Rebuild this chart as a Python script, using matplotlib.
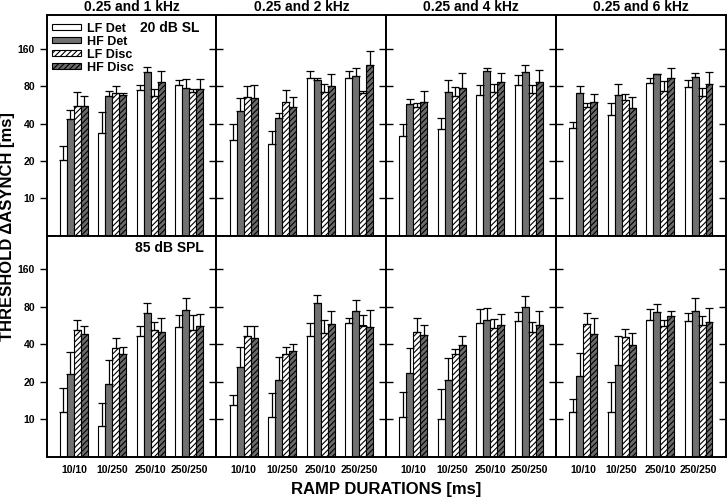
import numpy as np
import matplotlib
matplotlib.use("Agg")
import matplotlib.pyplot as plt
from matplotlib.ticker import FixedLocator, NullLocator, FixedFormatter

plt.rcParams['font.family'] = ['Liberation Sans', 'DejaVu Sans']
plt.rcParams['font.weight'] = 'bold'
plt.rcParams['hatch.linewidth'] = 0.8

panel_titles = ["0.25 and 1 kHz", "0.25 and 2 kHz", "0.25 and 4 kHz", "0.25 and 6 kHz"]
row_labels = ["20 dB SL", "85 dB SPL"]
ramp_labels = ["10/10", "10/250", "250/10", "250/250"]
series_names = ["LF Det", "HF Det", "LF Disc", "HF Disc"]
y_ticks = [10, 20, 40, 80, 160]

# ---- 20 dB SL (top row); each inner list = one panel, 4 ramp conditions ----
sl_lf_det = [[20.5, 33.3, 74, 81.6], [29.3, 27.5, 93.5, 93.5], [31.5, 36.3, 67.4, 82], [36.6, 46.5, 84.3, 78.3]]
sl_hf_det = [[43.4, 66.5, 103, 77.8], [50.4, 44, 89, 95.8], [57, 71.2, 105, 103], [70.8, 67.8, 99.5, 94]]
sl_lf_disc = [[55.6, 70, 66, 72], [65.3, 59.2, 71.2, 70.8], [54, 67, 71.2, 70], [53.9, 61.4, 73, 66.6]]
sl_hf_disc = [[55.6, 67.8, 86.3, 75.3], [64.1, 54.6, 80, 117.5], [59.9, 77.2, 86.3, 85.8], [59.2, 53, 92, 83.2]]
# upper ends of error bars
sl_lf_det_top = [[26.2, 49.8, 81, 90], [39.4, 34.8, 106, 106], [39.4, 44.5, 81.6, 98], [41.4, 58, 92, 89.6]]
sl_hf_det_top = [[51, 73.5, 113, 90.6], [64.5, 48.3, 93, 111], [63, 89, 112, 117.5], [80.6, 82.6, 100.5, 101]]
sl_lf_disc_top = [[72, 80, 75.3, 76], [80.6, 74, 83.6, 73.5], [58, 79, 83.6, 82], [58, 69.5, 88, 77.7]]
sl_hf_disc_top = [[66, 70, 105, 91.5], [81.6, 65.3, 100, 152], [72.6, 102.6, 102.6, 107], [69.5, 65.3, 111, 103]]

# ---- 85 dB SPL (bottom row) ----
spl_lf_det = [[11.5, 8.9, 46.8, 55], [12.9, 10.4, 46.8, 59.2], [10.5, 10.05, 59.5, 61.8], [11.4, 11.4, 62.2, 61.8]]
spl_hf_det = [[22.9, 19.1, 72.1, 76.2], [26.5, 20.7, 86.3, 74.8], [23.4, 20.6, 62.6, 79.6], [22.3, 27.2, 73, 74]]
spl_lf_disc = [[52.3, 37.7, 52.6, 52], [46.5, 33.5, 49.8, 56.7], [50.1, 33.3, 53.9, 50.1], [58.1, 45.7, 56.3, 57.7]]
spl_hf_disc = [[48.6, 33.3, 50.4, 56.3], [44.8, 35.4, 58.8, 55.3], [47.4, 39.4, 57.4, 57.7], [48.3, 39.4, 67.8, 60.6]]
spl_lf_det_top = [[17.7, 13.4, 56.7, 69], [15.6, 16.4, 59.2, 65.7], [16.7, 17.4, 76.7, 73], [14.6, 20.1, 77.2, 71.2]]
spl_hf_det_top = [[34.4, 30.2, 85.2, 95.2], [38.4, 31.9, 100, 90.6], [37.7, 30.9, 77.7, 97], [34.2, 46.5, 84.2, 93.5]]
spl_lf_disc_top = [[63, 45.4, 60.3, 69], [56, 38.4, 62.2, 68.6], [65, 36.6, 63.7, 60.6], [71.2, 53, 63, 67.8]]
spl_hf_disc_top = [[56.7, 38.4, 65, 70.4], [56, 40.1, 74.8, 75.8], [57.7, 46.8, 70.8, 74.8], [65, 49.8, 74, 79]]

rows = [
    ([sl_lf_det, sl_hf_det, sl_lf_disc, sl_hf_disc],
     [sl_lf_det_top, sl_hf_det_top, sl_lf_disc_top, sl_hf_disc_top]),
    ([spl_lf_det, spl_hf_det, spl_lf_disc, spl_hf_disc],
     [spl_lf_det_top, spl_hf_det_top, spl_lf_disc_top, spl_hf_disc_top]),
]

face = ["white", "#717171", "white", "#6a6a6a"]
hatches = [None, None, "//////", "//////"]

fig = plt.figure(figsize=(7.27, 5.03), dpi=100)
L, R, B, T = 46.7 / 727, 725.7 / 727, 1 - 456.7 / 503, 1 - 15 / 503
axes = fig.subplots(2, 4, sharex=True, sharey=True,
                    gridspec_kw=dict(left=L, right=R, bottom=B, top=T, wspace=0, hspace=0))

x = np.arange(len(ramp_labels))
bw = 0.181
offsets = (np.arange(4) - 1.5) * bw

for r, (means, tops) in enumerate(rows):
    for c in range(4):
        ax = axes[r, c]
        for s in range(4):
            m = np.array(means[s][c])
            t = np.array(tops[s][c])
            ax.bar(x + offsets[s], m, width=bw, bottom=1e-3, color=face[s], edgecolor="black",
                   linewidth=0.8, hatch=hatches[s], label=series_names[s], zorder=2)
            ax.errorbar(x + offsets[s], m, yerr=[np.zeros_like(m), t - m], fmt="none",
                        ecolor="black", elinewidth=0.9, capsize=2.6, capthick=0.9, zorder=3)
        ax.set_yscale("log")
        ax.set_ylim(5, 298)
        ax.set_xlim(-0.705, 3.705)
        ax.yaxis.set_major_locator(FixedLocator(y_ticks))
        ax.yaxis.set_major_formatter(FixedFormatter([str(v) for v in y_ticks]))
        ax.yaxis.set_minor_locator(NullLocator())
        ax.set_xticks(x)
        ax.set_xticklabels(ramp_labels)
        ax.tick_params(axis="x", length=0, labelsize=7.5, pad=6)
        ax.tick_params(axis="y", which="major", direction="out" if c == 0 else "in",
                       length=5, width=1, labelsize=7.5, right=True, labelright=False)
        for sp in ax.spines.values():
            sp.set_linewidth(1.4)
        if r == 0:
            ax.set_title(panel_titles[c], fontsize=10, fontweight="bold", pad=3)

# right ticks always inward
for ax in axes.flat:
    for tk in ax.yaxis.get_major_ticks():
        tk.tick2line.set_marker(matplotlib.lines.TICKLEFT)
        tk.tick2line.set_markersize(5)

axes[0, 0].text(0.723, 0.94, row_labels[0], transform=axes[0, 0].transAxes,
                ha="center", va="center", fontsize=10, fontweight="bold")
axes[1, 0].text(0.723, 0.944, row_labels[1], transform=axes[1, 0].transAxes,
                ha="center", va="center", fontsize=10, fontweight="bold")

leg = axes[0, 0].legend(loc="upper left", bbox_to_anchor=(-0.02, 1.005), frameon=False,
                        fontsize=9, handlelength=2.3, handleheight=0.3, labelspacing=0.08,
                        handletextpad=0.5, borderpad=0.2)

fig.text(0.011, 0.55, "THRESHOLD \u0394ASYNCH [ms]", rotation=90, ha="center", va="center",
         fontsize=12, fontweight="bold")
fig.text(0.531, 0.027, "RAMP DURATIONS [ms]", ha="center", va="center",
         fontsize=12, fontweight="bold")

fig.savefig("out.png", dpi=100)
